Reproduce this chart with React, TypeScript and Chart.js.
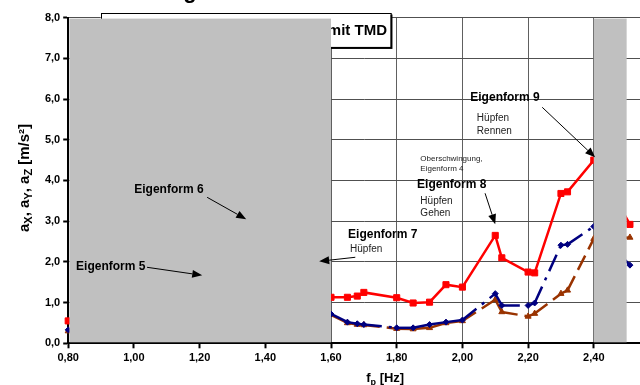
import React, { useEffect, useRef } from 'react';
import { Chart, registerables } from 'chart.js';
Chart.register(...registerables);

// ---------- data ----------
const freqs = [0.80, 1.60, 1.65, 1.68, 1.70, 1.80, 1.85, 1.90, 1.95, 2.00, 2.10, 2.12, 2.20, 2.22, 2.30, 2.32, 2.40, 2.51];
const accRed = [0.55, 1.13, 1.13, 1.16, 1.25, 1.12, 0.99, 1.01, 1.44, 1.38, 2.65, 2.10, 1.75, 1.73, 3.68, 3.72, 4.50, 2.92];
const accBlue = [0.33, 0.72, 0.52, 0.48, 0.46, 0.38, 0.38, 0.46, 0.52, 0.57, 1.22, 0.93, 0.93, 0.99, 2.41, 2.43, 2.87, 1.92];
const accBrown = [0.30, 0.70, 0.50, 0.46, 0.45, 0.36, 0.35, 0.38, 0.50, 0.55, 1.07, 0.77, 0.66, 0.73, 1.22, 1.30, 2.57, 2.60];

const X_MIN = 0.8, X_MAX = 2.6, X_STEP = 0.2;
const Y_MIN = 0, Y_MAX = 8, Y_STEP = 1;

// shaded (excluded) frequency ranges
const greyBands = [[0.80, 1.60], [2.40, 2.50]];

// annotation texts (data coordinates: left x, middle y)
const noteTexts = [
  { text: 'Eigenform 9', x: 2.024, y: 6.035, size: 12, bold: true },
  { text: 'Hüpfen', x: 2.044, y: 5.527, size: 10, bold: false },
  { text: 'Rennen', x: 2.044, y: 5.208, size: 10, bold: false },
  { text: 'Oberschwingung,', x: 1.872, y: 4.52, size: 8, bold: false },
  { text: 'Eigenform 4', x: 1.872, y: 4.28, size: 8, bold: false },
  { text: 'Eigenform 8', x: 1.862, y: 3.906, size: 12, bold: true },
  { text: 'Hüpfen', x: 1.872, y: 3.495, size: 10, bold: false },
  { text: 'Gehen', x: 1.872, y: 3.19, size: 10, bold: false },
  { text: 'Eigenform 7', x: 1.652, y: 2.677, size: 12, bold: true },
  { text: 'Hüpfen', x: 1.658, y: 2.309, size: 10, bold: false },
  { text: 'Eigenform 6', x: 1.001, y: 3.783, size: 12, bold: true },
  { text: 'Eigenform 5', x: 0.824, y: 1.891, size: 12, bold: true },
];
// arrows: [fromX, fromY, toX, toY]
const noteArrows = [
  [2.243, 5.797, 2.404, 4.569],
  [2.069, 3.685, 2.100, 2.923],
  [1.674, 2.113, 1.564, 2.014],
  [1.223, 3.586, 1.342, 3.046],
  [1.040, 1.867, 1.208, 1.670],
];
const titleBox = { x0: 0.899, x1: 1.781, y0: 7.28, y1: 8.125, text: 'Beschleunigungen mit TMD' };
const topTitle = 'Ergebnisse';

const FONT = '"Liberation Sans", Arial, sans-serif';

function drawRich(ctx: CanvasRenderingContext2D, parts: { t: string; sub?: boolean }[], size: number, subSize: number) {
  const widths = parts.map(p => {
    ctx.font = `bold ${p.sub ? subSize : size}px ${FONT}`;
    return ctx.measureText(p.t).width;
  });
  const total = widths.reduce((a, b) => a + b, 0);
  let cx = -total / 2;
  parts.forEach((p, i) => {
    ctx.font = `bold ${p.sub ? subSize : size}px ${FONT}`;
    ctx.fillText(p.t, cx, p.sub ? 3 : 0);
    cx += widths[i];
  });
}

const decor = {
  id: 'decor',
  beforeDatasetsDraw(chart: any) {
    const { ctx, scales: { x, y } } = chart;
    const l = x.getPixelForValue(titleBox.x0), r = x.getPixelForValue(titleBox.x1);
    const t = y.getPixelForValue(titleBox.y1), b = y.getPixelForValue(titleBox.y0);
    ctx.save();
    ctx.fillStyle = '#000';
    ctx.fillRect(l + 2, t + 2, r - l, b - t);
    ctx.fillStyle = '#fff';
    ctx.fillRect(l, t, r - l, b - t);
    ctx.strokeStyle = '#000';
    ctx.lineWidth = 1;
    ctx.strokeRect(Math.round(l) + 0.5, Math.round(t) + 0.5, r - l, b - t);
    ctx.fillStyle = '#000';
    ctx.font = `bold 15px ${FONT}`;
    ctx.textAlign = 'right';
    ctx.textBaseline = 'middle';
    ctx.fillText(titleBox.text, r - 3.5, (t + b) / 2 + 1);
    ctx.restore();
  },
  afterDatasetsDraw(chart: any) {
    const { ctx, chartArea, scales: { x, y } } = chart;
    ctx.save();
    // grey bands
    ctx.fillStyle = '#C0C0C0';
    const top = y.getPixelForValue(Y_MAX) + 1;
    const bottom = y.getPixelForValue(Y_MIN) - 1;
    greyBands.forEach(([a, b]) => {
      const l = Math.max(x.getPixelForValue(a), chartArea.left + 1.2);
      const r = x.getPixelForValue(b);
      ctx.fillRect(l, top, r - l, bottom - top);
    });
    // arrows
    ctx.strokeStyle = '#000';
    ctx.fillStyle = '#000';
    ctx.lineWidth = 1;
    noteArrows.forEach(([fx, fy, tx, ty]) => {
      const x0 = x.getPixelForValue(fx), y0 = y.getPixelForValue(fy);
      const x1 = x.getPixelForValue(tx), y1 = y.getPixelForValue(ty);
      const ang = Math.atan2(y1 - y0, x1 - x0);
      const hl = 10, hw = 4;
      const bx = x1 - hl * Math.cos(ang), by = y1 - hl * Math.sin(ang);
      ctx.beginPath();
      ctx.moveTo(x0, y0);
      ctx.lineTo(bx, by);
      ctx.stroke();
      ctx.beginPath();
      ctx.moveTo(x1, y1);
      ctx.lineTo(bx + hw * Math.sin(ang), by - hw * Math.cos(ang));
      ctx.lineTo(bx - hw * Math.sin(ang), by + hw * Math.cos(ang));
      ctx.closePath();
      ctx.fill();
    });
    // note texts
    ctx.textAlign = 'left';
    ctx.textBaseline = 'middle';
    noteTexts.forEach(n => {
      ctx.font = `${n.bold ? 'bold ' : ''}${n.size}px ${FONT}`;
      ctx.fillStyle = n.bold ? '#000' : '#222';
      ctx.fillText(n.text, x.getPixelForValue(n.x), y.getPixelForValue(n.y));
    });
    // axis titles
    ctx.fillStyle = '#000';
    ctx.textAlign = 'left';
    ctx.textBaseline = 'alphabetic';
    ctx.save();
    ctx.translate(29, (chartArea.top + chartArea.bottom) / 2 - 2.5);
    ctx.rotate(-Math.PI / 2);
    drawRich(ctx, [
      { t: 'a' }, { t: 'X', sub: true }, { t: ', a' }, { t: 'Y', sub: true },
      { t: ', a' }, { t: 'Z', sub: true }, { t: ' [m/s²]' },
    ], 15, 11);
    ctx.restore();
    ctx.save();
    ctx.translate(chartArea.left + 317, chartArea.bottom + 38.7);
    drawRich(ctx, [{ t: 'f' }, { t: 'p', sub: true }, { t: ' [Hz]' }], 13, 9);
    ctx.restore();
    // top title (mostly outside the visible window)
    ctx.font = `bold 22px ${FONT}`;
    ctx.textAlign = 'left';
    ctx.fillText(topTitle, 160, chartArea.top - 19.2);
    ctx.restore();
  },
};

function restartDash(dataIndex: number) {
  return dataIndex % 2 ? 0.0001 : 0;
}

export default function App() {
  const ref = useRef<HTMLCanvasElement>(null);
  useEffect(() => {
    const tickFont = { family: FONT, size: 11, weight: 'bold' as const };
    const pts = (vals: number[]) => freqs.map((f, i) => ({ x: f, y: vals[i] }));
    const chart = new Chart(ref.current as HTMLCanvasElement, {
      type: 'line',
      data: {
        datasets: [
          {
            label: 'red', data: pts(accRed), borderColor: '#FF0000', backgroundColor: '#FF0000',
            borderWidth: 2.5, pointStyle: 'rect', pointRadius: 4.3, pointBorderWidth: 1,
            pointBorderColor: '#FF0000', pointBackgroundColor: '#FF0000', clip: false as any, order: 1,
          },
          {
            label: 'blue', data: pts(accBlue), borderColor: '#000080', backgroundColor: '#000080',
            borderWidth: 2.5, borderDash: [18, 7, 3, 7], pointStyle: 'rectRot', pointRadius: 3,
            pointBorderWidth: 1, pointBorderColor: '#000080', pointBackgroundColor: '#000080',
            clip: false as any, order: 2,
            segment: { borderDashOffset: (c: any) => restartDash(c.p0DataIndex) },
          },
          {
            label: 'brown', data: pts(accBrown), borderColor: '#993300', backgroundColor: '#993300',
            borderWidth: 2.5, borderDash: [16, 7], pointStyle: 'triangle', pointRadius: 3.5,
            pointBorderWidth: 1, pointBorderColor: '#993300', pointBackgroundColor: '#993300',
            clip: false as any, order: 3,
            segment: { borderDashOffset: (c: any) => restartDash(c.p0DataIndex) },
          },
        ],
      },
      options: {
        animation: false,
        responsive: true,
        maintainAspectRatio: false,
        layout: { padding: { top: 37.6, right: 20.5, bottom: 0, left: 0 } },
        plugins: { legend: { display: false }, tooltip: { enabled: false }, title: { display: false } },
        scales: {
          x: {
            type: 'linear', min: X_MIN, max: X_MAX,
            ticks: {
              stepSize: X_STEP, autoSkip: false, maxRotation: 0, padding: 3, color: '#000', font: tickFont,
              callback: (v: any) => Number(v).toFixed(2).replace('.', ','),
            },
            grid: { color: '#606060', lineWidth: 1, tickLength: 5, tickColor: '#000', tickWidth: 2 },
            border: { color: '#000', width: 2 },
            afterFit: (s: any) => { s.height = 46.7; },
          },
          y: {
            type: 'linear', min: Y_MIN, max: Y_MAX,
            ticks: {
              stepSize: Y_STEP, padding: 3, color: '#000', font: tickFont,
              callback: (v: any) => Number(v).toFixed(1).replace('.', ','),
            },
            grid: { color: '#505050', lineWidth: 1, tickLength: 5, tickColor: '#000', tickWidth: 2 },
            border: { color: '#000', width: 2 },
            afterFit: (s: any) => { s.width = 68.2; },
          },
        },
      },
      plugins: [decor],
    });
    return () => chart.destroy();
  }, []);
  return (
    <div style={{ position: 'fixed', left: 0, top: 0, width: 640, height: 385, overflow: 'hidden', background: '#fff' }}>
      <div style={{ position: 'absolute', left: 0, top: -20, width: 680, height: 410 }}>
        <canvas ref={ref} />
      </div>
    </div>
  );
}
